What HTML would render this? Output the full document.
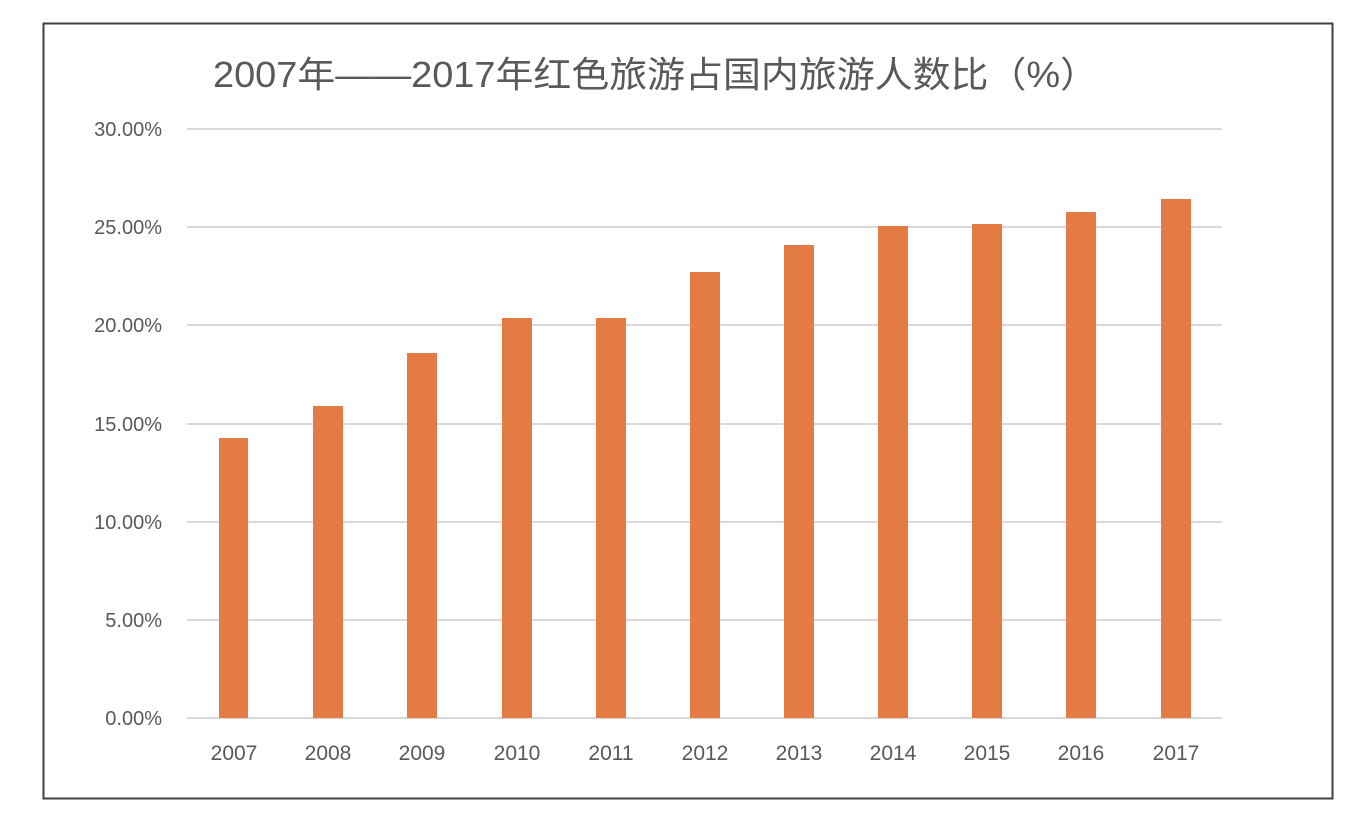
<!DOCTYPE html>
<html><head><meta charset="utf-8"><style>
html,body{margin:0;padding:0;background:#fff;}
svg{display:block;}
text{font-family:"Liberation Sans","Noto Sans CJK SC",sans-serif;fill:#595959;}
</style></head><body>
<svg width="1350" height="816" viewBox="0 0 1350 816">
<rect x="43.5" y="23.5" width="1289" height="775" fill="#fff" stroke="#404040" stroke-width="2"/>
<text x="213" y="87" font-size="36" textLength="885" lengthAdjust="spacingAndGlyphs" fill="#404040">2007年——2017年红色旅游占国内旅游人数比（%）</text>
<g stroke="#d9d9d9" stroke-width="2">
<line x1="187" x2="1222" y1="129" y2="129"/>
<line x1="187" x2="1222" y1="227" y2="227"/>
<line x1="187" x2="1222" y1="325" y2="325"/>
<line x1="187" x2="1222" y1="424" y2="424"/>
<line x1="187" x2="1222" y1="522" y2="522"/>
<line x1="187" x2="1222" y1="620" y2="620"/>
<line x1="187" x2="1222" y1="718" y2="718"/>
</g>
<g font-size="20" text-anchor="end">
<text x="162" y="136">30.00%</text>
<text x="162" y="234">25.00%</text>
<text x="162" y="332">20.00%</text>
<text x="162" y="431">15.00%</text>
<text x="162" y="529">10.00%</text>
<text x="162" y="627">5.00%</text>
<text x="162" y="725">0.00%</text>
</g>
<g fill="#e47b45">
<rect x="219" y="438" width="29" height="280"/>
<rect x="313" y="406" width="30" height="312"/>
<rect x="407" y="353" width="30" height="365"/>
<rect x="502" y="318" width="30" height="400"/>
<rect x="596" y="318" width="30" height="400"/>
<rect x="690" y="272" width="30" height="446"/>
<rect x="784" y="245" width="30" height="473"/>
<rect x="878" y="226" width="30" height="492"/>
<rect x="972" y="224" width="30" height="494"/>
<rect x="1066" y="212" width="30" height="506"/>
<rect x="1161" y="199" width="30" height="519"/>
</g>
<g font-size="21" text-anchor="middle">
<text x="234" y="760">2007</text>
<text x="328" y="760">2008</text>
<text x="422" y="760">2009</text>
<text x="517" y="760">2010</text>
<text x="611" y="760">2011</text>
<text x="705" y="760">2012</text>
<text x="799" y="760">2013</text>
<text x="893" y="760">2014</text>
<text x="987" y="760">2015</text>
<text x="1081" y="760">2016</text>
<text x="1176" y="760">2017</text>
</g>
</svg>
</body></html>
